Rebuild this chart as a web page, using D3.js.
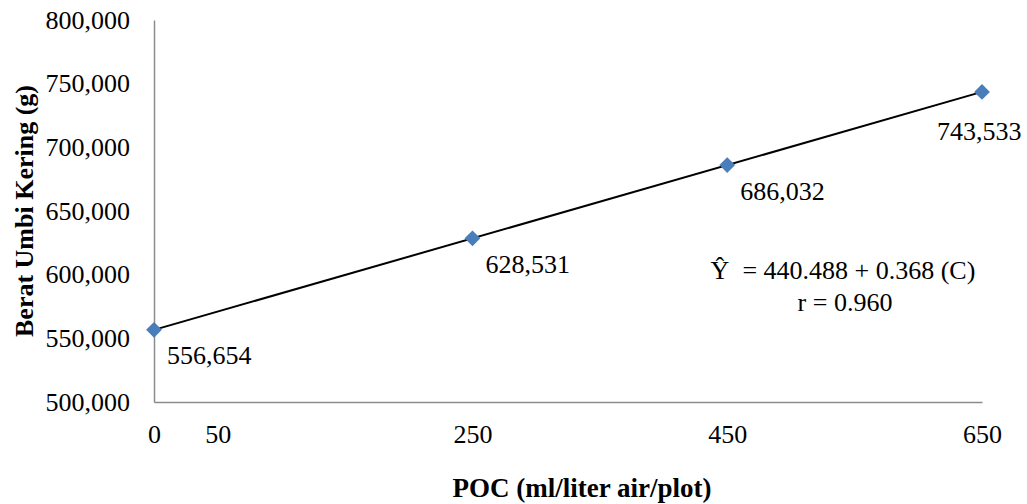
<!DOCTYPE html>
<html>
<head>
<meta charset="utf-8">
<script src="https://cdn.jsdelivr.net/npm/d3@7"></script>
<style>
  body { margin: 0; background: #fff; }
  text { font-family: "Liberation Serif", "Times New Roman", serif; fill: #000; }
</style>
</head>
<body>
<div id="chart"></div>
<script>
// Data
const doses = [0, 250, 450, 650];
const weights = [556.654, 628.531, 686.032, 743.533];
const xTicks = [0, 50, 250, 450, 650];
const yTicks = [500, 550, 600, 650, 700, 750, 800];
const equationText = 'Ŷ  = 440.488 + 0.368 (C)';
const rText = 'r = 0.960';

// Indonesian number format: comma as decimal mark
const fmt = v => v.toFixed(3).replace('.', ',');

const W = 1027, H = 504;
const margin = {top: 20, right: 45, bottom: 102, left: 154};
const width = W - margin.left - margin.right,
      height = H - margin.top - margin.bottom;

const svg = d3.select('#chart').append('svg')
  .attr('width', W)
  .attr('height', H);

const g = svg.append('g')
  .attr('transform', 'translate(' + margin.left + ',' + margin.top + ')');

const x = d3.scaleLinear().domain([0, 650]).range([0, width]);
const y = d3.scaleLinear().domain([500, 800]).range([height, 0]);

// Axes (no tick marks, gray line)
const xAxis = g.append('g')
  .attr('transform', 'translate(0,' + height + ')')
  .call(d3.axisBottom(x).tickValues(xTicks).tickSize(0).tickFormat(d => d));
const yAxis = g.append('g')
  .call(d3.axisLeft(y).tickValues(yTicks).tickSize(0).tickPadding(24).tickFormat(fmt));

[xAxis, yAxis].forEach(a => {
  a.select('.domain').attr('stroke', '#8c8c8c').attr('stroke-width', 1.5);
  a.selectAll('text').style('font-family', '"Liberation Serif", serif').style('font-size', '26px').attr('fill', '#000');
});
xAxis.selectAll('text').attr('y', 41).attr('dy', 0);

// Trend line from least squares fit of the points
const mx = d3.mean(doses), my = d3.mean(weights);
const slope = d3.sum(doses.map((d, i) => (d - mx) * (weights[i] - my))) /
              d3.sum(doses.map(d => (d - mx) * (d - mx)));
const icept = my - slope * mx;
const ext = d3.extent(doses);
g.append('line')
  .attr('x1', x(ext[0])).attr('y1', y(icept + slope * ext[0]))
  .attr('x2', x(ext[1])).attr('y2', y(icept + slope * ext[1]))
  .attr('stroke', '#000')
  .attr('stroke-width', 2);

// Diamond markers
const diamond = d3.symbol().type(d3.symbolSquare).size(125);
g.selectAll('.pt')
  .data(doses)
  .enter().append('path')
  .attr('class', 'pt')
  .attr('d', diamond)
  .attr('transform', (d, i) => 'translate(' + x(d) + ',' + y(weights[i]) + ') rotate(45)')
  .attr('fill', '#4a7ebb');

// Data labels below-right of each point, pushed left/down at the right edge
const maxLabelX = W - 5 - margin.left - 85;
g.selectAll('.lbl')
  .data(doses)
  .enter().append('text')
  .attr('class', 'lbl')
  .style('font-size', '26px')
  .attr('x', d => Math.min(x(d) + 13, maxLabelX))
  .attr('y', (d, i) => y(weights[i]) + (x(d) + 13 > maxLabelX ? 40 : 26))
  .attr('dy', '0.33em')
  .text((d, i) => fmt(weights[i]));

// Regression equation
g.append('text')
  .attr('x', 843 - margin.left)
  .attr('y', 279 - margin.top)
  .attr('text-anchor', 'middle')
  .style('font-size', '26px')
  .style('white-space', 'pre')
  .text(equationText);
g.append('text')
  .attr('x', 845 - margin.left)
  .attr('y', 311 - margin.top)
  .attr('text-anchor', 'middle')
  .style('font-size', '26px')
  .text(rText);

// Axis titles
svg.append('text')
  .attr('x', 582)
  .attr('y', 497)
  .attr('text-anchor', 'middle')
  .style('font-size', '27px')
  .style('font-weight', 'bold')
  .text('POC (ml/liter air/plot)');
svg.append('text')
  .attr('transform', 'translate(33,' + (margin.top + height / 2) + ') rotate(-90)')
  .attr('text-anchor', 'middle')
  .style('font-size', '26px')
  .style('font-weight', 'bold')
  .text('Berat Umbi Kering (g)');
</script>
</body>
</html>
